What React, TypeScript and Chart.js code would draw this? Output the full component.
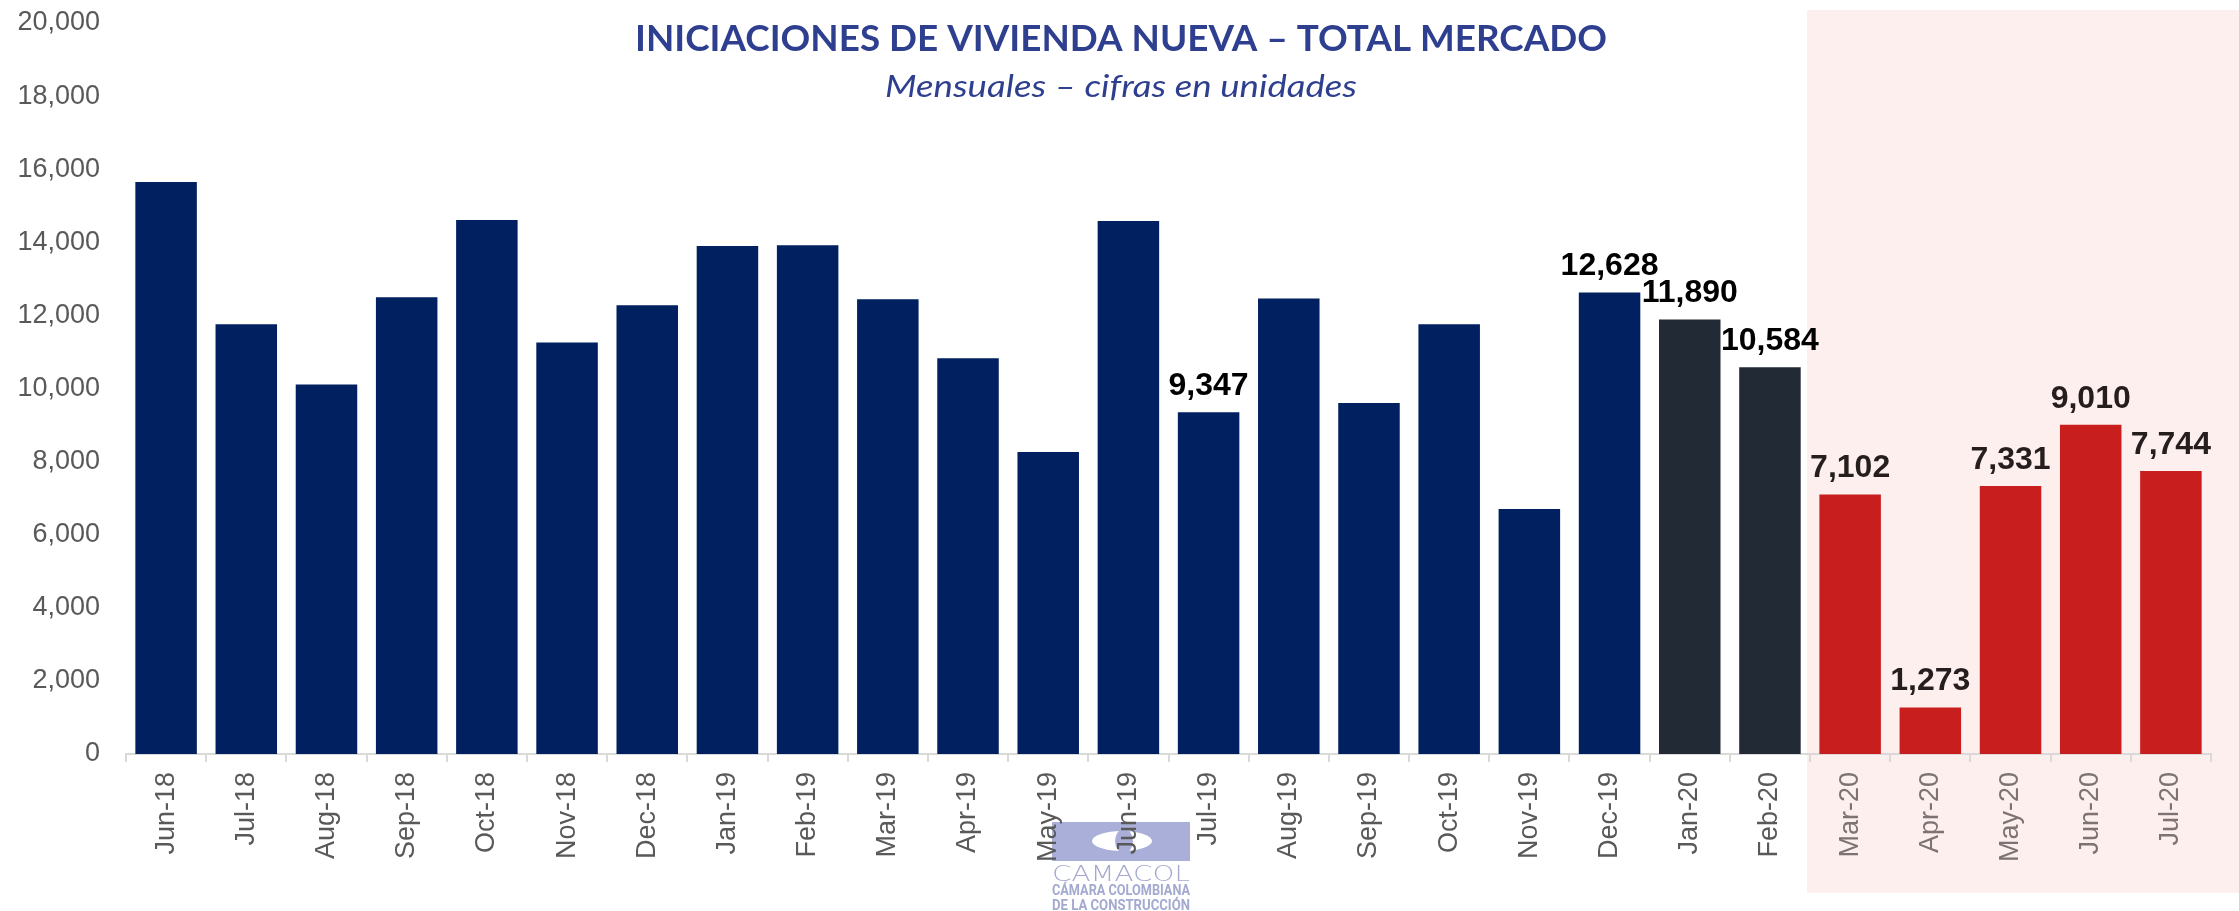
import React, { useEffect, useRef } from "react";
import { Chart, registerables } from "chart.js";

Chart.register(...registerables);

const months = [
  "Jun-18", "Jul-18", "Aug-18", "Sep-18", "Oct-18", "Nov-18", "Dec-18",
  "Jan-19", "Feb-19", "Mar-19", "Apr-19", "May-19", "Jun-19", "Jul-19",
  "Aug-19", "Sep-19", "Oct-19", "Nov-19", "Dec-19", "Jan-20", "Feb-20",
  "Mar-20", "Apr-20", "May-20", "Jun-20", "Jul-20",
];

const starts = [
  15650, 11760, 10110, 12500, 14610, 11260, 12280,
  13900, 13920, 12440, 10830, 8260, 14580, 9347,
  12460, 9600, 11760, 6700, 12628, 11890, 10584,
  7102, 1273, 7331, 9010, 7744,
];

// which bars carry a value label
const labelled = [
  false, false, false, false, false, false, false,
  false, false, false, false, false, false, true,
  false, false, false, false, true, true, true,
  true, true, true, true, true,
];

// period of each bar: 0 = before 2020, 1 = early 2020, 2 = pandemic months
const period = [
  0, 0, 0, 0, 0, 0, 0, 0, 0, 0, 0, 0, 0, 0, 0, 0, 0, 0, 0,
  1, 1,
  2, 2, 2, 2, 2,
];

const yTicks = [0, 2000, 4000, 6000, 8000, 10000, 12000, 14000, 16000, 18000, 20000];

const TITLE = "INICIACIONES DE VIVIENDA NUEVA – TOTAL MERCADO";
const SUBTITLE = "Mensuales – cifras en unidades";

const periodColors = ["#002060", "#222A35", "#C81E1E"];
const FONT = "'Liberation Sans', Arial, sans-serif";
const fmt = (v: number) => v.toLocaleString("en-US");

function scaledText(ctx: CanvasRenderingContext2D, text: string, font: string, color: string, cx: number, baseline: number, width: number) {
  ctx.save();
  ctx.font = font;
  ctx.fillStyle = color;
  ctx.textAlign = "center";
  ctx.textBaseline = "alphabetic";
  const w = ctx.measureText(text).width;
  ctx.translate(cx, baseline);
  ctx.scale(width / w, 1);
  ctx.fillText(text, 0, 0);
  ctx.restore();
}

const backgroundPlugin = {
  id: "bgDecor",
  beforeDraw(chart: any) {
    const { ctx } = chart;
    const x = chart.scales.x;
    const firstPandemic = period.indexOf(2);
    const left = (x.getPixelForTick(firstPandemic - 1) + x.getPixelForTick(firstPandemic)) / 2 - 3;
    ctx.save();
    ctx.fillStyle = "#FEEFEF";
    ctx.fillRect(left, 10, chart.width - left, 883);

    // CAMACOL logo
    ctx.fillStyle = "#A9AFD8";
    ctx.fillRect(1052, 822, 138, 39);
    ctx.fillStyle = "#ffffff";
    ctx.beginPath();
    ctx.ellipse(1122, 841, 30, 10, 0, 0, Math.PI * 2);
    ctx.fill();
    ctx.fillStyle = "#A9AFD8";
    ctx.beginPath();
    ctx.ellipse(1124, 841, 9, 12, 0, 0, Math.PI * 2);
    ctx.fill();
    scaledText(ctx, "CAMACOL", "300 22px 'DejaVu Sans', sans-serif", "#A3A9CF", 1121, 881, 138);
    scaledText(ctx, "CÁMARA COLOMBIANA", "bold 14px 'Roboto', sans-serif", "#A3A9CF", 1121, 895, 138);
    scaledText(ctx, "DE LA CONSTRUCCIÓN", "bold 14px 'Roboto', sans-serif", "#A3A9CF", 1121, 910, 138);
    ctx.restore();
  },
  afterDatasetsDraw(chart: any) {
    const { ctx } = chart;
    const meta = chart.getDatasetMeta(0);
    ctx.save();
    ctx.font = `bold 32px ${FONT}`;
    ctx.textAlign = "center";
    ctx.textBaseline = "alphabetic";
    meta.data.forEach((bar: any, i: number) => {
      if (!labelled[i]) return;
      ctx.fillStyle = period[i] === 2 ? "#261E1E" : "#000000";
      ctx.fillText(fmt(starts[i]), bar.x, bar.y - 17);
    });
    ctx.restore();
  },
  afterDraw(chart: any) {
    const { ctx } = chart;
    scaledText(ctx, TITLE, "bold 37px Lato, 'Open Sans', sans-serif", "#2F3F8F", 1121, 51, 972);
    scaledText(ctx, SUBTITLE, "italic 31px Lato, 'Open Sans', sans-serif", "#2F3F8F", 1121, 97, 472);
  },
};

export default function App() {
  const ref = useRef<HTMLCanvasElement | null>(null);
  useEffect(() => {
    if (!ref.current) return;
    const chart = new Chart(ref.current, {
      type: "bar",
      data: {
        labels: months,
        datasets: [
          {
            data: starts,
            backgroundColor: period.map((p) => periodColors[p]),
            borderWidth: 0,
            barPercentage: 0.767,
            categoryPercentage: 1,
          },
        ],
      },
      options: {
        animation: false,
        responsive: true,
        maintainAspectRatio: false,
        layout: { padding: { top: 23, right: 28, left: 0, bottom: 0 } },
        plugins: {
          legend: { display: false },
          tooltip: { enabled: false },
        },
        scales: {
          x: {
            afterFit: (s: any) => { s.height = 157; },
            grid: {
              display: true,
              drawOnChartArea: false,
              drawTicks: true,
              tickLength: 8,
              color: "#D9D9D9",
              lineWidth: 2,
              offset: true,
            },
            border: { display: true, color: "#D9D9D9", width: 2 },
            ticks: {
              autoSkip: false,
              maxRotation: 90,
              minRotation: 90,
              padding: 10,
              font: { family: FONT, size: 27 },
              color: (c: any) => (period[c.index] === 2 ? "#7D7373" : "#595959"),
            },
          },
          y: {
            min: 0,
            max: 20000,
            afterFit: (s: any) => {
              s.width = 126;
              s.paddingTop = 0;
              s.paddingBottom = 0;
            },
            afterBuildTicks: (s: any) => { s.ticks = yTicks.map((v) => ({ value: v })); },
            grid: { display: false, drawTicks: false },
            border: { display: false },
            ticks: {
              padding: 26,
              font: { family: FONT, size: 27 },
              color: "#595959",
              callback: (v: any) => fmt(Number(v)),
            },
          },
        },
      },
      plugins: [backgroundPlugin],
    });
    return () => chart.destroy();
  }, []);

  return (
    <div style={{ position: "absolute", left: 0, top: 0, width: 2239, height: 911, background: "#fff" }}>
      <canvas ref={ref} />
    </div>
  );
}
